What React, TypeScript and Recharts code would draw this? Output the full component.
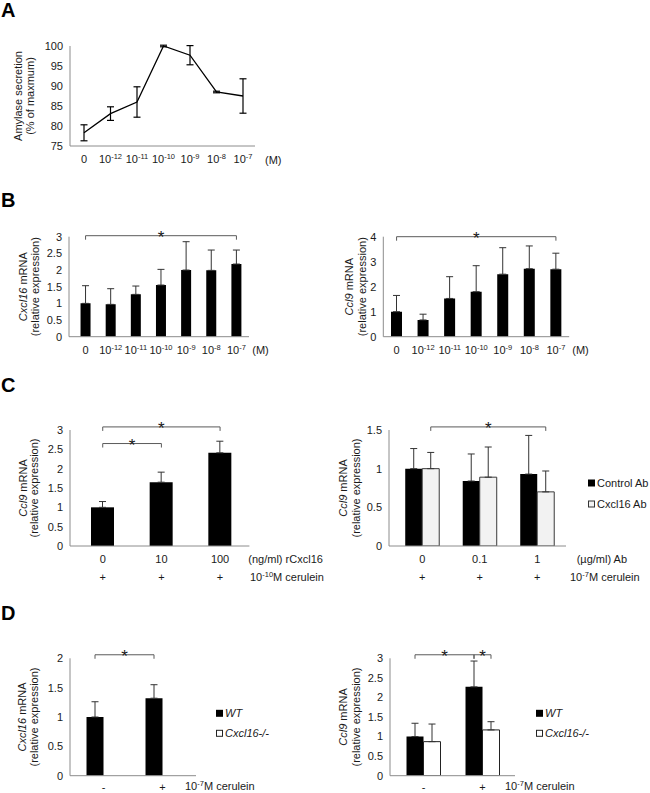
import React from 'react';
import { LineChart, Line, BarChart, Bar, XAxis, YAxis, ErrorBar, ReferenceLine } from 'recharts';

const FONT = "'Liberation Sans', Arial, Helvetica, sans-serif";
const TXT = '#1a1a1a';
const AXIS = '#8c8c8c';
const YW = 30;

// ---------------- data ----------------
// Panel A
const aDoses = ['0', '-12', '-11', '-10', '-9', '-8', '-7'];
const aSecretion = [78.3, 83.1, 86.0, 100, 97.7, 88.5, 87.5];
const aSecretionErr = [2.0, 1.7, 3.8, 0.2, 2.4, 0.2, 4.3];
const aTicks = [75, 80, 85, 90, 95, 100];

// Panel B
const bDoses = ['0', '-12', '-11', '-10', '-9', '-8', '-7'];
const bCxcl16 = [1.0, 0.97, 1.27, 1.55, 2.0, 1.99, 2.18];
const bCxcl16Err = [0.53, 0.47, 0.25, 0.47, 0.85, 0.61, 0.42];
const bCcl9 = [1.0, 0.67, 1.53, 1.8, 2.5, 2.72, 2.7];
const bCcl9Err = [0.65, 0.23, 0.87, 1.04, 1.06, 0.91, 0.64];
const bCxcl16Ticks = [0, 0.5, 1, 1.5, 2, 2.5, 3];
const bCcl9Ticks = [0, 1, 2, 3, 4];

// Panel C
const cRcxcl16Doses = ['0', '10', '100'];
const cCcl9 = [1.0, 1.65, 2.41];
const cCcl9Err = [0.15, 0.26, 0.3];
const cAbDoses = ['0', '0.1', '1'];
const cControlAb = [1.0, 0.84, 0.93];
const cControlAbErr = [0.26, 0.35, 0.5];
const cCxcl16Ab = [1.0, 0.89, 0.7];
const cCxcl16AbErr = [0.21, 0.39, 0.27];
const cLeftTicks = [0, 0.5, 1, 1.5, 2, 2.5, 3];
const cRightTicks = [0, 0.5, 1, 1.5];

// Panel D
const dCerulein = ['-', '+'];
const dCxcl16WT = [1.0, 1.32];
const dCxcl16WTErr = [0.26, 0.23];
const dCxcl16KO: (number | null)[] = [null, null];
const dCcl9WT = [1.0, 2.27];
const dCcl9WTErr = [0.34, 0.66];
const dCcl9KO = [0.87, 1.17];
const dCcl9KOErr = [0.45, 0.21];
const dLeftTicks = [0, 0.5, 1, 1.5, 2];
const dRightTicks = [0, 0.5, 1, 1.5, 2, 2.5, 3];

// significance brackets: [category index, series index] -> [category index, series index] at height y
const bCxcl16Sig = [{ from: [0, 0], to: [6, 0], y: 3.03 }];
const bCcl9Sig = [{ from: [0, 0], to: [6, 0], y: 4.0 }];
const cCcl9Sig = [
  { from: [0, 0], to: [2, 0], y: 3.08 },
  { from: [0, 0], to: [1, 0], y: 2.65 },
];
const cAbSig = [{ from: [0, 1], to: [2, 1], y: 1.54 }];
const dCxcl16Sig = [{ from: [0, 0], to: [1, 0], y: 2.06 }];
const dCcl9Sig = [
  { from: [0, 0], to: [1, 0], y: 3.09 },
  { from: [1, 0], to: [1, 1], y: 3.09 },
];

// ---------------- helpers ----------------
type Series = { key: string; values: (number | null)[]; errs?: number[]; fill: string; stroke?: string };
type Sig = { from: number[]; to: number[]; y: number };

const bracket = (p: any) => {
  const { x1, y1, x2, y2 } = p;
  if ([x1, y1, x2, y2].some((v) => typeof v !== 'number' || isNaN(v))) return <g />;
  return (
    <g>
      <path d={`M${x1},${y1 + 4}V${y1}H${x2}V${y2 + 4}`} fill="none" stroke="#5a5a5a" strokeWidth={1} />
      <text x={(x1 + x2) / 2} y={y1 + 7} textAnchor="middle" fontSize={17} fontFamily={FONT} fill={TXT}>
        *
      </text>
    </g>
  );
};

function ExpTick(props: any) {
  const { x, y, payload } = props;
  const v = String(payload.value);
  return (
    <text x={x} y={y} dy="0.71em" textAnchor="middle" fontSize={11} fontFamily={FONT} fill={TXT}>
      {v === '0' ? '0' : (
        <>
          10<tspan dy={-4} fontSize={7.5}>{v}</tspan>
        </>
      )}
    </text>
  );
}

const tickStyle = { fontSize: 11, fill: TXT, fontFamily: FONT };

function BarPanel(props: {
  box: number[];
  plot: number[];
  cats: string[];
  series: Series[];
  domain: [number, number];
  ticks: number[];
  gap: number;
  pad?: { left: number; right: number };
  sig: Sig[];
  expTicks?: boolean;
  plusRow?: boolean;
  tickGap?: number;
}) {
  const { box, plot, cats, series, domain, ticks, gap, sig, expTicks, plusRow } = props;
  const tickGap = props.tickGap ?? 3;
  const pad = props.pad || { left: 0, right: 0 };
  const [L, T, W, H] = box;
  const [x0, y0, x1, y1] = plot;
  const h1 = plusRow ? 18 : expTicks ? 24 : 17;
  const h2 = plusRow ? 20 : 0;
  const margin = { left: x0 - L - YW, right: L + W - x1, top: y0 - T, bottom: T + H - y1 - h1 - h2 };
  const data = cats.map((c, i) => {
    const row: Record<string, unknown> = { cat: c, idx: i };
    series.forEach((s) => {
      row[s.key] = s.values[i];
      if (s.errs) row[s.key + 'Err'] = [0, s.errs[i]];
    });
    return row;
  });
  const n = series.length;
  const w = (1 - 2 * gap) / n;
  // hidden numeric axis: value i sits at the centre of category i
  const band = (x1 - x0 - pad.left - pad.right) / cats.length;
  const posPad = { left: pad.left + band / 2, right: pad.right + band / 2 };
  const pos = (cs: number[]) => cs[0] - 0.5 + gap + w * (cs[1] + 0.5);
  return (
    <div style={{ position: 'absolute', left: L, top: T }}>
      <BarChart
        width={W}
        height={H}
        data={data}
        margin={margin}
        barCategoryGap={`${gap * 100}%`}
        barGap={0}
        style={{ fontFamily: FONT }}
      >
        <XAxis
          dataKey="cat"
          interval={0}
          axisLine={{ stroke: AXIS }}
          tickLine={false}
          tickSize={6}
          tickMargin={tickGap}
          height={h1}
          padding={pad}
          tick={expTicks ? (p: any) => <ExpTick {...p} /> : tickStyle}
        />
        {plusRow && (
          <XAxis
            xAxisId="plus"
            dataKey="cat"
            interval={0}
            axisLine={false}
            tickLine={false}
            tickSize={6}
            tickMargin={3}
            height={h2}
            padding={pad}
            tick={tickStyle}
            tickFormatter={() => '+'}
          />
        )}
        <XAxis
          xAxisId="pos"
          dataKey="idx"
          type="number"
          domain={['dataMin', 'dataMax']}
          allowDataOverflow
          hide
          padding={posPad}
        />
        <YAxis
          width={YW}
          domain={domain}
          ticks={ticks}
          interval={0}
          allowDataOverflow
          axisLine={{ stroke: AXIS }}
          tickLine={false}
          tickSize={6}
          tickMargin={1}
          tick={tickStyle}
        />
        {series.map((s) => (
          <Bar
            key={s.key}
            dataKey={s.key}
            fill={s.fill}
            stroke={s.stroke}
            strokeWidth={s.stroke ? 1 : 0}
            isAnimationActive={false}
          >
            {s.errs && <ErrorBar dataKey={s.key + 'Err'} width={3.5} stroke="#333" strokeWidth={1} direction="y" />}
          </Bar>
        ))}
        {sig.map((g, i) => (
          <ReferenceLine
            key={i}
            xAxisId="pos"
            segment={[
              { x: pos(g.from), y: g.y },
              { x: pos(g.to), y: g.y },
            ]}
            ifOverflow="visible"
            shape={bracket}
          />
        ))}
      </BarChart>
    </div>
  );
}

function PanelA() {
  const data = aDoses.map((d, i) => ({ dose: d, v: aSecretion[i], e: aSecretionErr[i] }));
  return (
    <div style={{ position: 'absolute', left: 0, top: 30 }}>
      <LineChart width={325} height={150} data={data} margin={{ left: 40, right: 70, top: 16, bottom: 10 }} style={{ fontFamily: FONT }}>
        <XAxis
          dataKey="dose"
          interval={0}
          axisLine={{ stroke: AXIS }}
          tickLine={false}
          tickSize={6}
          tickMargin={3}
          height={24}
          padding={{ left: 14, right: 12 }}
          tick={(p: any) => <ExpTick {...p} />}
        />
        <YAxis
          width={YW}
          domain={[75, 100]}
          ticks={aTicks}
          interval={0}
          allowDataOverflow
          axisLine={{ stroke: AXIS }}
          tickLine={false}
          tickSize={6}
          tickMargin={1}
          tick={tickStyle}
        />
        <Line dataKey="v" stroke="#000" strokeWidth={1.3} dot={false} isAnimationActive={false}>
          <ErrorBar dataKey="e" width={3.5} stroke="#000" strokeWidth={1.2} direction="y" />
        </Line>
      </LineChart>
    </div>
  );
}

function YTitle({ x1, x2, cy, l1, l2 }: { x1: number; x2: number; cy: number; l1: React.ReactNode; l2: React.ReactNode }) {
  const common = { textAnchor: 'middle' as const, dominantBaseline: 'central' as const, fontSize: 11, fontFamily: FONT, fill: TXT };
  return (
    <g>
      <text transform={`rotate(-90 ${x1} ${cy})`} x={x1} y={cy} {...common}>
        {l1}
      </text>
      <text transform={`rotate(-90 ${x2} ${cy})`} x={x2} y={cy} {...common}>
        {l2}
      </text>
    </g>
  );
}

function LegendItem({ x, cy, fill, stroke, label, italic }: { x: number; cy: number; fill: string; stroke?: string; label: string; italic?: boolean }) {
  return (
    <g>
      {stroke ? (
        <rect x={x + 0.5} y={cy - 3} width={6} height={6} fill={fill} stroke={stroke} strokeWidth={1} />
      ) : (
        <rect x={x} y={cy - 3.5} width={7} height={7} fill={fill} />
      )}
      <text x={x + 9} y={cy + 4} fontSize={11} fontFamily={FONT} fill={TXT} fontStyle={italic ? 'italic' : 'normal'}>
        {label}
      </text>
    </g>
  );
}

function Overlay() {
  const t = { fontFamily: FONT, fontSize: 11, fill: TXT };
  const cer = (x: number, y: number, exp: string) => (
    <text x={x} y={y} {...t}>
      10<tspan dy={-4} fontSize={7.5}>{exp}</tspan>
      <tspan dy={4}>M cerulein</tspan>
    </text>
  );
  const letters: [string, number][] = [
    ['A', 17],
    ['B', 206.5],
    ['C', 391.5],
    ['D', 620],
  ];
  return (
    <svg width={650} height={793} style={{ position: 'absolute', left: 0, top: 0 }}>
      {letters.map(([l, y]) => (
        <text key={l} x={1} y={y} fontFamily={FONT} fontSize={20} fontWeight="bold" fill="#000">
          {l}
        </text>
      ))}
      <YTitle x1={18} x2={29.5} cy={96} l1="Amylase secretion" l2="(% of maxmum)" />
      <YTitle x1={23} x2={35} cy={286.7} l1={<><tspan fontStyle="italic">Cxcl16</tspan> mRNA</>} l2="(relative expression)" />
      <YTitle x1={349.5} x2={362} cy={286.7} l1={<><tspan fontStyle="italic">Ccl9</tspan> mRNA</>} l2="(relative expression)" />
      <YTitle x1={22.7} x2={34.3} cy={488} l1={<><tspan fontStyle="italic">Ccl9</tspan> mRNA</>} l2="(relative expression)" />
      <YTitle x1={343.3} x2={355.7} cy={488} l1={<><tspan fontStyle="italic">Ccl9</tspan> mRNA</>} l2="(relative expression)" />
      <YTitle x1={21.7} x2={34.3} cy={717} l1={<><tspan fontStyle="italic">Cxcl16</tspan> mRNA</>} l2="(relative expression)" />
      <YTitle x1={343.3} x2={355.5} cy={717} l1={<><tspan fontStyle="italic">Ccl9</tspan> mRNA</>} l2="(relative expression)" />

      <text x={265} y={164} {...t}>(M)</text>
      <text x={252.3} y={354} {...t}>(M)</text>
      <text x={572.3} y={354} {...t}>(M)</text>
      <text x={248.3} y={563.3} {...t}>(ng/ml) rCxcl16</text>
      {cer(250, 580.7, '-10')}
      <text x={576.7} y={563.3} {...t}>(µg/ml) Ab</text>
      {cer(570, 580.7, '-7')}
      {cer(185, 790, '-7')}
      {cer(505, 790, '-7')}

      <LegendItem x={588} cy={483} fill="#000" label="Control Ab" />
      <LegendItem x={588} cy={504} fill="#f2f2f2" stroke="#333" label="Cxcl16 Ab" />
      <LegendItem x={216} cy={713.3} fill="#000" label="WT" italic />
      <LegendItem x={216} cy={733.3} fill="#fff" stroke="#222" label="Cxcl16-/-" italic />
      <LegendItem x={536} cy={713.3} fill="#000" label="WT" italic />
      <LegendItem x={536} cy={733.3} fill="#fff" stroke="#222" label="Cxcl16-/-" italic />
    </svg>
  );
}

export default function App() {
  return (
    <div
      style={{
        position: 'absolute',
        left: 0,
        top: 0,
        width: 650,
        height: 793,
        background: '#fff',
        overflow: 'hidden',
        fontFamily: FONT,
      }}
    >
      <Overlay />
      <PanelA />
      <BarPanel
        box={[0, 215, 325, 150]}
        plot={[69, 236.7, 249, 336.7]}
        cats={bDoses}
        series={[{ key: 'cxcl16', values: bCxcl16, errs: bCxcl16Err, fill: '#000' }]}
        domain={[0, 3]}
        ticks={bCxcl16Ticks}
        gap={0.3}
        pad={{ left: 4, right: 0 }}
        sig={bCxcl16Sig}
        expTicks
      />
      <BarPanel
        box={[325, 215, 325, 150]}
        plot={[383.3, 236.7, 569.2, 336.7]}
        cats={bDoses}
        series={[{ key: 'ccl9', values: bCcl9, errs: bCcl9Err, fill: '#000' }]}
        domain={[0, 4]}
        ticks={bCcl9Ticks}
        gap={0.29}
        sig={bCcl9Sig}
        expTicks
      />
      <BarPanel
        box={[0, 405, 325, 185]}
        plot={[70, 430, 249.4, 546]}
        cats={cRcxcl16Doses}
        series={[{ key: 'ccl9', values: cCcl9, errs: cCcl9Err, fill: '#000' }]}
        domain={[0, 3]}
        ticks={cLeftTicks}
        gap={0.3}
        pad={{ left: 3.4, right: 0 }}
        sig={cCcl9Sig}
        plusRow
      />
      <BarPanel
        box={[325, 405, 325, 185]}
        plot={[389, 430, 566, 546]}
        cats={cAbDoses}
        series={[
          { key: 'control', values: cControlAb, errs: cControlAbErr, fill: '#000' },
          { key: 'cxcl16ab', values: cCxcl16Ab, errs: cCxcl16AbErr, fill: '#f2f2f2', stroke: '#3a3a3a' },
        ]}
        domain={[0, 1.5]}
        ticks={cRightTicks}
        gap={0.204}
        pad={{ left: 4.5, right: 0 }}
        sig={cAbSig}
        plusRow
      />
      <BarPanel
        box={[0, 630, 325, 163]}
        plot={[70, 658.3, 196, 775.7]}
        cats={dCerulein}
        series={[
          { key: 'wt', values: dCxcl16WT, errs: dCxcl16WTErr, fill: '#000' },
          { key: 'ko', values: dCxcl16KO, fill: '#fff', stroke: '#222' },
        ]}
        domain={[0, 2]}
        ticks={dLeftTicks}
        gap={0.212}
        pad={{ left: 4, right: 4 }}
        sig={dCxcl16Sig}
        tickGap={1.5}
      />
      <BarPanel
        box={[325, 630, 325, 163]}
        plot={[390, 658.3, 515, 775.7]}
        cats={dCerulein}
        series={[
          { key: 'wt', values: dCcl9WT, errs: dCcl9WTErr, fill: '#000' },
          { key: 'ko', values: dCcl9KO, errs: dCcl9KOErr, fill: '#fff', stroke: '#222' },
        ]}
        domain={[0, 3]}
        ticks={dRightTicks}
        gap={0.212}
        pad={{ left: 4, right: 3 }}
        sig={dCcl9Sig}
        tickGap={1.5}
      />
    </div>
  );
}
